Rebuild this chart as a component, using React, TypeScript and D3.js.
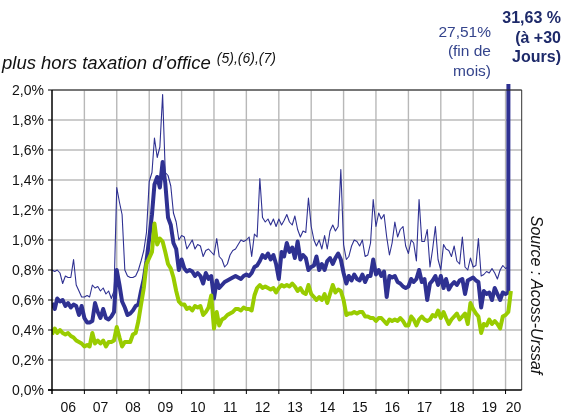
import React from 'react'
import * as d3 from 'd3'

// monthly values, Jan 2006 .. Mar 2020 (one row per year)
const finDeMois = [
  0.80, 0.79, 0.80, 0.78, 0.71, 0.76, 0.75, 0.75, 0.87, 0.70, 0.66, 0.62,
  0.62, 0.63, 0.62, 0.70, 0.68, 0.69, 0.66, 0.68, 0.64, 0.66, 0.61, 0.66,
  1.35, 1.25, 1.17, 0.80, 0.76, 0.75, 0.75, 0.76, 0.80, 0.86, 0.93, 1.05,
  1.39, 1.45, 1.68, 1.55, 1.62, 1.97, 1.45, 1.43, 1.36, 1.18, 1.12, 1.00,
  1.03, 1.02, 0.94, 0.97, 1.00, 0.94, 0.97, 0.96, 0.89, 0.93, 0.94, 0.92,
  0.90, 1.01, 0.89, 0.87, 0.82, 0.84, 0.90, 0.93, 0.94, 0.97, 1.00, 0.99,
  1.00, 1.02, 0.89, 1.04, 1.02, 1.41, 1.15, 1.12, 1.14, 1.10, 1.14, 1.09,
  1.14, 1.10, 1.13, 1.17, 1.12, 1.10, 1.16, 1.07, 1.02, 1.06, 1.05, 1.28,
  1.09, 1.00, 0.96, 1.00, 0.94, 1.03, 0.94, 1.06, 1.10, 1.06, 1.09, 1.47,
  0.97, 0.87, 0.89, 0.96, 1.00, 0.99, 0.96, 1.00, 0.89, 0.90, 0.98, 1.27,
  1.09, 1.18, 1.14, 1.17, 1.02, 0.90, 0.98, 1.12, 1.02, 1.07, 1.09, 0.96,
  0.91, 1.00, 0.98, 0.86, 1.27, 0.99, 0.99, 1.07, 0.82, 0.94, 1.09, 0.87,
  0.80, 0.97, 0.94, 0.93, 0.89, 0.96, 0.86, 0.84, 1.02, 0.82, 0.80, 0.88,
  0.82, 0.83, 1.01, 0.76, 0.77, 0.79, 0.78, 0.81, 0.78, 0.74, 0.80, 0.83,
  0.81, 0.82, 27.51,
]

const trenteJours = [
  0.58, 0.54, 0.61, 0.59, 0.60, 0.56, 0.58, 0.55, 0.57, 0.56, 0.50, 0.56,
  0.48, 0.45, 0.45, 0.46, 0.58, 0.52, 0.48, 0.54, 0.48, 0.47, 0.49, 0.52,
  0.80, 0.70, 0.59, 0.55, 0.50, 0.51, 0.53, 0.56, 0.57, 0.66, 0.74, 0.86,
  1.01, 1.17, 1.37, 1.42, 1.35, 1.52, 1.38, 1.15, 1.10, 0.98, 0.94, 0.80,
  0.87, 0.81, 0.79, 0.80, 0.79, 0.76, 0.78, 0.76, 0.71, 0.78, 0.74, 0.76,
  0.61, 0.73, 0.68, 0.70, 0.72, 0.73, 0.74, 0.75, 0.76, 0.75, 0.74, 0.76,
  0.77, 0.76, 0.78, 0.82, 0.83, 0.86, 0.90, 0.88, 0.91, 0.87, 0.90, 0.84,
  0.74, 0.92, 0.89, 0.98, 0.92, 0.95, 0.88, 0.99, 0.87, 0.90, 0.88, 0.80,
  0.82, 0.83, 0.89, 0.80, 0.84, 0.80, 0.86, 0.88, 0.84, 0.88, 0.91, 0.87,
  0.78, 0.71, 0.76, 0.73, 0.77, 0.74, 0.73, 0.77, 0.72, 0.76, 0.76, 0.87,
  0.77, 0.80, 0.76, 0.79, 0.62, 0.76, 0.75, 0.76, 0.72, 0.71, 0.69, 0.68,
  0.69, 0.74, 0.72, 0.74, 0.80, 0.72, 0.74, 0.60, 0.71, 0.73, 0.76, 0.70,
  0.76, 0.68, 0.74, 0.67, 0.70, 0.72, 0.70, 0.73, 0.74, 0.64, 0.73, 0.74,
  0.75, 0.73, 0.72, 0.55, 0.66, 0.64, 0.65, 0.60, 0.68, 0.64, 0.60, 0.65,
  0.64, 0.65, 31.63,
]

const horsTO = [
  0.37, 0.41, 0.38, 0.40, 0.38, 0.37, 0.38, 0.36, 0.35, 0.33, 0.32, 0.31,
  0.29, 0.30, 0.29, 0.38, 0.31, 0.33, 0.31, 0.33, 0.29, 0.32, 0.32, 0.33,
  0.42, 0.35, 0.29, 0.32, 0.32, 0.32, 0.37, 0.38, 0.46, 0.57, 0.68, 0.84,
  0.88, 0.92, 1.11, 0.97, 1.01, 0.99, 0.92, 0.84, 0.81, 0.75, 0.66, 0.59,
  0.57, 0.57, 0.54, 0.55, 0.53, 0.56, 0.55, 0.56, 0.50, 0.52, 0.55, 0.63,
  0.41, 0.52, 0.43, 0.47, 0.48, 0.50, 0.51, 0.52, 0.54, 0.54, 0.53, 0.55,
  0.54, 0.54, 0.53, 0.63, 0.68, 0.70, 0.68, 0.69, 0.68, 0.67, 0.68, 0.65,
  0.68, 0.70, 0.69, 0.70, 0.69, 0.71, 0.69, 0.66, 0.68, 0.65, 0.64, 0.70,
  0.64, 0.62, 0.60, 0.62, 0.60, 0.64, 0.58, 0.64, 0.70, 0.65, 0.67, 0.66,
  0.60, 0.50, 0.51, 0.51, 0.52, 0.51, 0.52, 0.52, 0.49, 0.49, 0.48, 0.48,
  0.46, 0.48, 0.48, 0.46, 0.44, 0.47, 0.46, 0.47, 0.46, 0.48, 0.46, 0.43,
  0.43, 0.49, 0.47, 0.43, 0.47, 0.49, 0.47, 0.46, 0.47, 0.50, 0.49, 0.53,
  0.48, 0.52, 0.48, 0.44, 0.47, 0.49, 0.51, 0.47, 0.49, 0.51, 0.44, 0.58,
  0.54, 0.51, 0.49, 0.38, 0.44, 0.43, 0.47, 0.44, 0.46, 0.44, 0.41, 0.49,
  0.50, 0.52, 0.66,
]

const yearLabels = ['06', '07', '08', '09', '10', '11', '12', '13', '14', '15', '16', '17', '18', '19', '20']
const yTicks = [0, 0.2, 0.4, 0.6, 0.8, 1.0, 1.2, 1.4, 1.6, 1.8, 2.0]

const navy = '#2f3192'
const green = '#99cc00'
const font = "'Liberation Sans', Arial, sans-serif"

export default function App() {
  // plot area
  const left = 52, right = 521.7, top = 90, bottom = 390

  const start = new Date(2006, 0, 1)
  const end = new Date(2020, 6, 1)
  const x = d3.scaleTime().domain([start, end]).range([left, right])
  const y = d3.scaleLinear().domain([0, 2]).range([bottom, top])

  const date = (i: number) => new Date(2006, i, 1)
  const line = d3.line<number>().x((d, i) => x(date(i))).y(d => y(d))

  const yearBounds = d3.timeYear.range(new Date(2007, 0, 1), new Date(2021, 0, 1))
  const fmt = (v: number) => v.toFixed(1).replace('.', ',') + '%'

  return (
    <svg width={564} height={414} style={{ position: 'fixed', left: 0, top: 0 }}>
      <defs>
        <clipPath id="plotclip">
          <rect x={left} y={top - 6} width={right - left} height={bottom - top + 6} />
        </clipPath>
      </defs>

      {/* horizontal grid */}
      {yTicks.slice(1).map(t => (
        <line key={t} x1={left} x2={right} y1={y(t)} y2={y(t)} stroke="#9a9a9a" strokeWidth={1.1} />
      ))}
      {/* vertical grid at year boundaries */}
      {yearBounds.map(d => (
        <line key={+d} x1={x(d)} x2={x(d)} y1={top} y2={bottom} stroke="#b8b8b8" strokeWidth={1.4} />
      ))}

      <g clipPath="url(#plotclip)" fill="none" strokeLinejoin="round">
        <path d={line(finDeMois) || ''} stroke={navy} strokeWidth={1.1} />
        <path d={line(trenteJours) || ''} stroke={navy} strokeWidth={4} />
        <path d={line(horsTO) || ''} stroke={green} strokeWidth={4} />
      </g>

      {/* frame */}
      <line x1={left} x2={right} y1={top} y2={top} stroke="#222" strokeWidth={1} />
      <line x1={right} x2={right} y1={top} y2={bottom} stroke="#333" strokeWidth={1} />
      <line x1={left} x2={left} y1={top} y2={bottom + 4} stroke="#000" strokeWidth={1.5} />
      <line x1={left - 4} x2={right} y1={bottom} y2={bottom} stroke="#000" strokeWidth={1.5} />

      {/* y ticks and labels */}
      {yTicks.map(t => (
        <g key={t}>
          <line x1={left - 4} x2={left} y1={y(t)} y2={y(t)} stroke="#000" strokeWidth={1} />
          <text x={left - 8} y={y(t) + 5} textAnchor="end" fontSize={14} fontFamily={font} fill="#111">
            {fmt(t)}
          </text>
        </g>
      ))}

      {/* x ticks and year labels */}
      {yearBounds.filter(d => d < end).map(d => (
        <line key={+d} x1={x(d)} x2={x(d)} y1={bottom} y2={bottom + 4} stroke="#000" strokeWidth={1} />
      ))}
      {yearLabels.map((lab, i) => {
        const a = new Date(2006 + i, 0, 1)
        const b = new Date(Math.min(+new Date(2007 + i, 0, 1), +end))
        const cx = (x(a) + x(b)) / 2
        return (
          <text key={lab} x={cx} y={411.5} textAnchor="middle" fontSize={14} fontFamily={font} fill="#111">
            {lab}
          </text>
        )
      })}

      {/* title */}
      <text x={2} y={69} fontSize={18.5} fontStyle="italic" fontFamily={font} fill="#111">
        plus hors taxation d’office
        <tspan dx={6} dy={-6} fontSize={14}>(5),(6),(7)</tspan>
      </text>

      {/* annotations */}
      <g fontFamily={font} fontSize={15.5} fill="#34448c" textAnchor="end">
        <text x={491} y={37}>27,51%</text>
        <text x={491} y={56}>(fin de</text>
        <text x={491} y={76}>mois)</text>
      </g>
      <g fontFamily={font} fontSize={16} fontWeight="bold" fill="#1e2a6a" textAnchor="end">
        <text x={561} y={23}>31,63 %</text>
        <text x={561} y={43}>(à +30</text>
        <text x={561} y={62}>Jours)</text>
      </g>

      <text
        transform="translate(531, 295) rotate(90)"
        textAnchor="middle"
        fontSize={16}
        fontStyle="italic"
        fontFamily={font}
        fill="#111"
      >
        Source : Acoss-Urssaf
      </text>
    </svg>
  )
}
